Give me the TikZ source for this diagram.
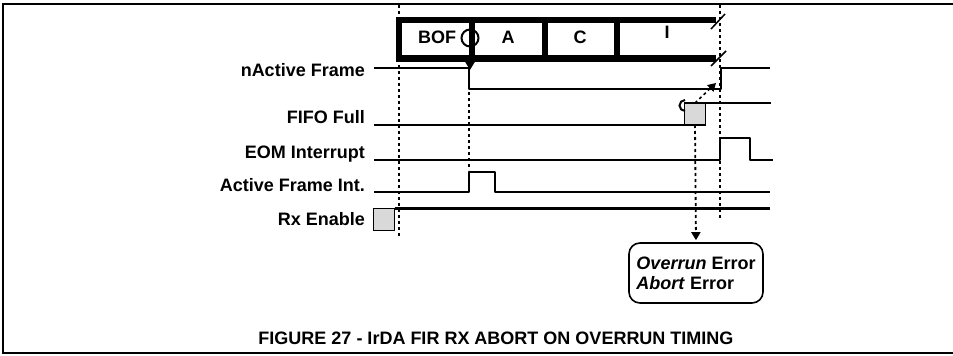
\documentclass[tikz,border=0pt]{standalone}
\usepackage{fontspec}
\setsansfont{Liberation Sans}
\usetikzlibrary{arrows.meta, positioning}
\definecolor{boxgray}{HTML}{D9D9D9}

\begin{document}
\begin{tikzpicture}[
  x=1pt, y=-1pt,
  font=\sffamily\bfseries\fontsize{18}{20}\selectfont,
  sig/.style={line width=2.8pt, line join=round},
  frm/.style={line width=6.5pt},
  tick/.style={line width=1.8pt, dash pattern=on 3pt off 3pt},
  gbox/.style={draw, line width=1.6pt, fill=boxgray, minimum width=21pt, minimum height=22pt, inner sep=0pt, outer sep=0pt},
  errbox/.style={draw, line width=1.6pt, rounded corners=11pt, align=left, minimum width=134pt, minimum height=60pt, inner sep=3pt},
  lbl/.style={anchor=base east, inner sep=0pt},
  cell/.style={anchor=base, inner sep=0pt},
  ar/.style={-{Triangle[length=8pt, width=9pt]}}
]
\useasboundingbox (0,0) rectangle (953,356);

% outer figure frame
\draw[line width=2.4pt] (953,4) -- (3,4) -- (3,353) -- (953,353);

% frame bar
\draw[frm] (716,20) -- (399,20) -- (399,58.5) -- (716,58.5);
\draw[frm] (472,20) -- (472,58.5);
\draw[frm] (545,20) -- (545,58.5);
\draw[frm] (617,20) -- (617,58.5);
\draw[line width=1.5pt] (711,29) -- (725,14);
\draw[line width=1.5pt] (711,66) -- (726,51);

\node[cell] (bof) at (437,43) {BOF};
\node[cell] (fa) at (508,43) {A};
\node[cell] (fc) at (580,43) {C};
\node[cell] (fi) at (667,38) {I};
\draw[line width=2pt] (470,38) circle[radius=8.5];

% signal names
\node[lbl] (nact) at (365,76) {nActive Frame};
\node[lbl] (fifo) at (365,123) {FIFO Full};
\node[lbl] (eom) at (365,158) {EOM Interrupt};
\node[lbl] (afi) at (365,191) {Active Frame Int.};
\node[lbl] (rxe) at (365,225) {Rx Enable};

% waveforms
\draw[sig] (374,68) -- (469,68) -- (469,89) -- (721,89) -- (721,68) -- (770,68);
\draw[line width=2pt, ar] (470,62) -- (470,70);

\draw[sig] (374,125) -- (685,125);
\node[gbox] (full) at (695,114) {};
\draw[sig] (full.north east) -- ++(65,0);
\draw[line width=2pt] (685,111) arc[start angle=90, end angle=270, radius=5.5];

\draw[sig] (374,160) -- (720,160) -- (720,138) -- (750,138) -- (750,160) -- (773,160);
\draw[sig] (374,192) -- (469,192) -- (469,172) -- (495,172) -- (495,192) -- (770,192);

\node[gbox] (rxbox) at (384,219.5) {};
\draw[sig] (rxbox.north east) -- (770,208.5);

% time markers
\draw[tick] (399,5) -- (399,236);
\draw[tick] (720,5) -- (720,218);
\draw[tick] (469,92) -- (469,170);

\coordinate (rise) at (716,83);
\draw[tick, line width=1.5pt, ar] (full.north) -- (rise);

\node[errbox] (err) at (696,273) {\textit{Overrun} Error\\\textit{Abort} Error};
\draw[tick, ar, shorten >=2pt] (full.south) -- (err.north);

\node[cell] (title) at (496,344) {FIGURE 27 - IrDA FIR RX ABORT ON OVERRUN TIMING};
\end{tikzpicture}
\end{document}
